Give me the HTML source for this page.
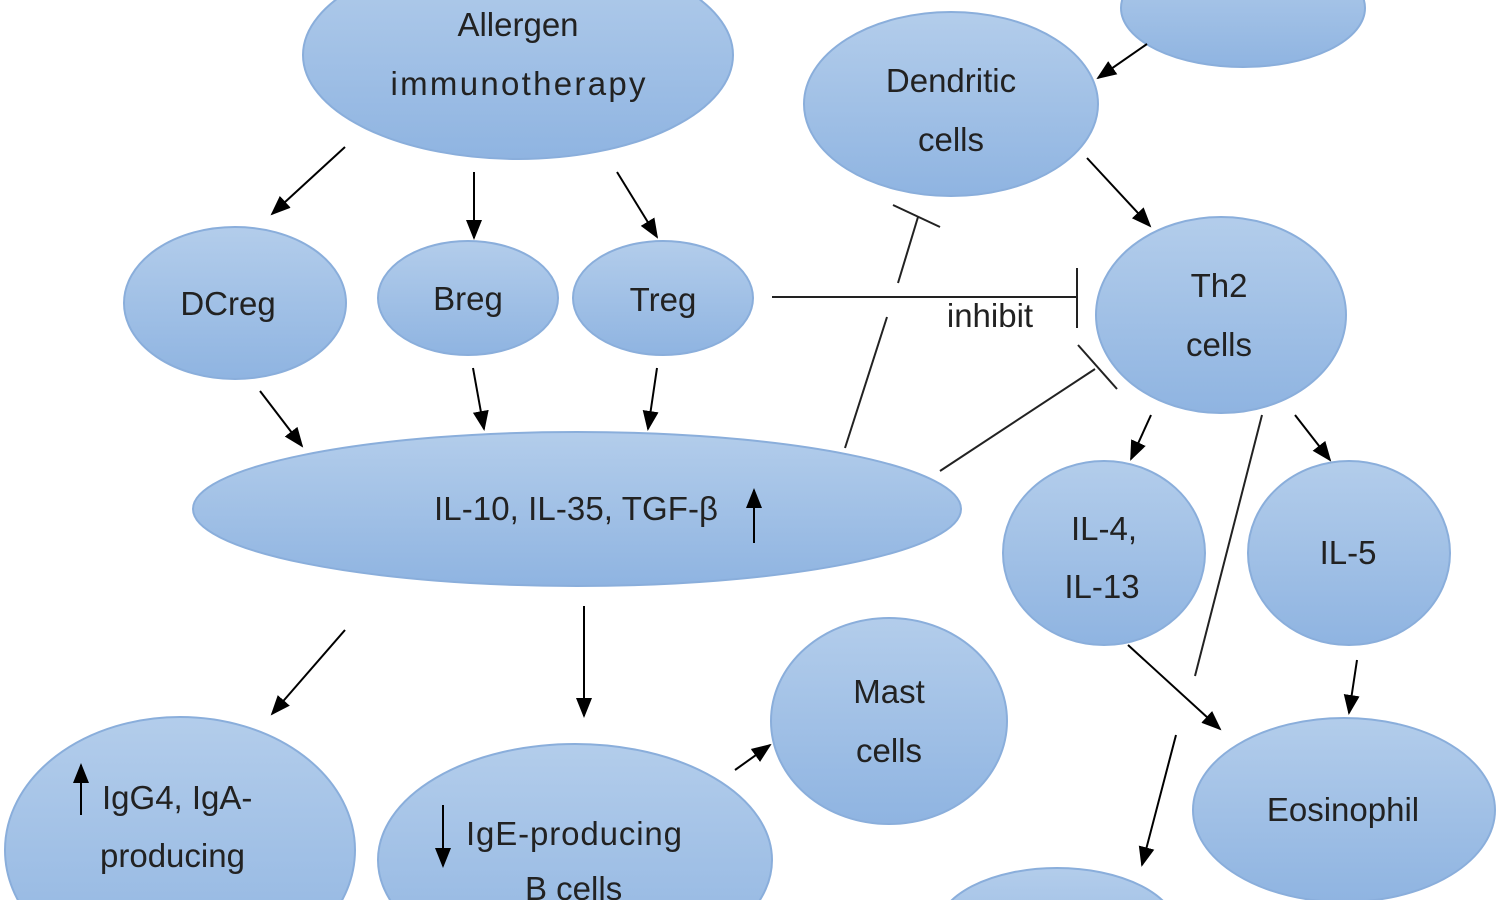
<!DOCTYPE html>
<html><head><meta charset="utf-8"><style>html,body{margin:0;padding:0;background:#fff;width:1500px;height:900px;overflow:hidden}svg{display:block}</style></head><body>
<svg width="1500" height="900" viewBox="0 0 1500 900" xmlns="http://www.w3.org/2000/svg" font-family="Liberation Sans, sans-serif" font-size="33" fill="#222">
<defs>
<linearGradient id="g" x1="0" y1="0" x2="0" y2="1"><stop offset="0" stop-color="#b3cdeb"/><stop offset="1" stop-color="#8fb4e1"/></linearGradient>
<marker id="b" markerWidth="20" markerHeight="20" refX="18" refY="10" orient="auto" markerUnits="userSpaceOnUse" viewBox="0 0 20 20"><path d="M0,2 L20,10 L0,18 z" fill="#000"/></marker>
</defs>
<g fill="url(#g)" stroke="#8aaedb" stroke-width="2">
<ellipse cx="518" cy="55" rx="215" ry="104"/>
<ellipse cx="1243" cy="8" rx="122" ry="59"/>
<ellipse cx="951" cy="104" rx="147" ry="92"/>
<ellipse cx="235" cy="303" rx="111" ry="76"/>
<ellipse cx="468" cy="298" rx="90" ry="57"/>
<ellipse cx="663" cy="298" rx="90" ry="57"/>
<ellipse cx="1221" cy="315" rx="125" ry="98"/>
<ellipse cx="577" cy="509" rx="384" ry="77"/>
<ellipse cx="1104" cy="553" rx="101" ry="92"/>
<ellipse cx="1349" cy="553" rx="101" ry="92"/>
<ellipse cx="889" cy="721" rx="118" ry="103"/>
<ellipse cx="1344" cy="810" rx="151" ry="92"/>
<ellipse cx="180" cy="850" rx="175" ry="133"/>
<ellipse cx="575" cy="860" rx="197" ry="116"/>
<ellipse cx="1057" cy="930" rx="120" ry="62"/>
</g>
<g text-anchor="middle">
<text x="518" y="36">Allergen</text><text x="518" y="95" textLength="255">immunotherapy</text>
<text x="951" y="92">Dendritic</text><text x="951" y="151">cells</text>
<text x="228" y="315">DCreg</text><text x="468" y="310">Breg</text><text x="663" y="311">Treg</text>
<text x="1219" y="297">Th2</text><text x="1219" y="356">cells</text>
<text x="576" y="520" textLength="284">IL-10, IL-35, TGF-β</text>
<text x="1104" y="540">IL-4,</text><text x="1102" y="598">IL-13</text>
<text x="1348" y="564">IL-5</text>
<text x="889" y="703">Mast</text><text x="889" y="762">cells</text>
<text x="1343" y="821">Eosinophil</text>
<text x="990" y="327">inhibit</text>
</g>
<text x="102" y="809">IgG4, IgA-</text><text x="100" y="867">producing</text>
<text x="466" y="845" textLength="216">IgE-producing</text><text x="525" y="900">B cells</text>
<g stroke="#000" stroke-width="2" fill="none" marker-end="url(#b)">
<line x1="345" y1="147" x2="272" y2="214"/><line x1="474" y1="172" x2="474" y2="238"/><line x1="617" y1="172" x2="657" y2="237"/>
<line x1="260" y1="391" x2="302" y2="446"/><line x1="473" y1="368" x2="484" y2="429"/><line x1="657" y1="368" x2="648" y2="429"/>
<line x1="1147" y1="44" x2="1098" y2="78"/><line x1="1087" y1="158" x2="1150" y2="226"/>
<line x1="1151" y1="415" x2="1131" y2="459"/><line x1="1295" y1="415" x2="1330" y2="460"/>
<line x1="345" y1="630" x2="272" y2="714"/><line x1="584" y1="606" x2="584" y2="716"/><line x1="735" y1="770" x2="770" y2="745"/>
<line x1="1357" y1="660" x2="1349" y2="713"/><line x1="1128" y1="645" x2="1220" y2="729"/><line x1="1176" y1="735" x2="1142" y2="865"/>
<line x1="754" y1="543" x2="754" y2="490"/><line x1="81" y1="815" x2="81" y2="765"/><line x1="443" y1="805" x2="443" y2="866"/>
</g>
<g stroke="#222" stroke-width="2" fill="none">
<line x1="1262" y1="415" x2="1195" y2="676"/>
<line x1="772" y1="297" x2="1077" y2="297"/><line x1="1077" y1="268" x2="1077" y2="328"/>
<line x1="845" y1="448" x2="887" y2="317"/><line x1="898" y1="283" x2="918" y2="217"/><line x1="893" y1="205" x2="940" y2="227"/>
<line x1="940" y1="471" x2="1095" y2="369"/><line x1="1078" y1="345" x2="1117" y2="389"/>
</g>
</svg>
</body></html>
